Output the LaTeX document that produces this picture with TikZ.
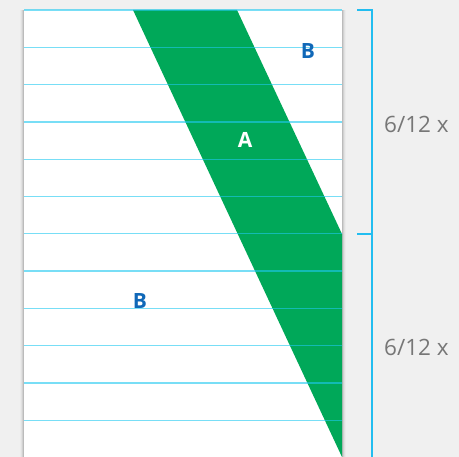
\documentclass[tikz,border=0pt]{standalone}
\usepackage{fontspec}
\setmainfont{Open Sans}
\definecolor{bg}{HTML}{F0F0F0}
\definecolor{rule}{HTML}{1EC8F0}
\definecolor{grn}{HTML}{00A859}
\definecolor{lblue}{HTML}{1068B8}
\definecolor{brk}{HTML}{22BDF0}
\definecolor{gtext}{HTML}{777777}
\tikzset{
  ruleline/.style={rule, opacity=0.6, line width=1.3pt},
  lbl/.style={font=\fontsize{21}{21}\selectfont\bfseries, inner sep=0pt},
  frac/.style={font=\fontsize{22.5}{22.5}\selectfont, text=gtext, inner sep=0pt, anchor=west},
  brack/.style={brk, line width=1.5pt}
}
\begin{document}
\begin{tikzpicture}[x=1pt,y=-1pt]
\fill[bg] (0,0) rectangle (459,457);
\useasboundingbox (0,0) rectangle (459,457);
% page shadow
\foreach \i/\o in {1/0.10,2/0.07,3/0.04,4/0.02}{
  \fill[black,opacity=\o] (24-\i,10) rectangle (342+\i,457);
}
\fill[white] (24,10) rectangle (342,457);
% green band
\fill[grn] (133,10) -- (237,10) -- (342,234) -- (342,457) -- cycle;
% rule lines
\foreach \y in {10,47.3,84.6,121.9,159.2,196.5,233.8,271.1,308.4,345.7,383,420.3}{
  \draw[ruleline] (24,\y) -- (342,\y);
}
% labels
\node[lbl, text=lblue] (b1) at (308,51) {B};
\node[lbl, text=white] (a) at (245,140) {A};
\node[lbl, text=lblue] (b2) at (140,301) {B};
% bracket
\coordinate (t0) at (357,10);
\coordinate (t1) at (372,10);
\coordinate (m0) at (357,234);
\coordinate (m1) at (372,234);
\coordinate (e1) at (372,457);
\draw[brack] (t0) -- (t1) -- (e1);
\draw[brack] (m0) -- (m1);
\node[frac] (f1) at (384,124) {6/12 x};
\node[frac] (f2) at (384,347) {6/12 x};
\end{tikzpicture}
\end{document}
